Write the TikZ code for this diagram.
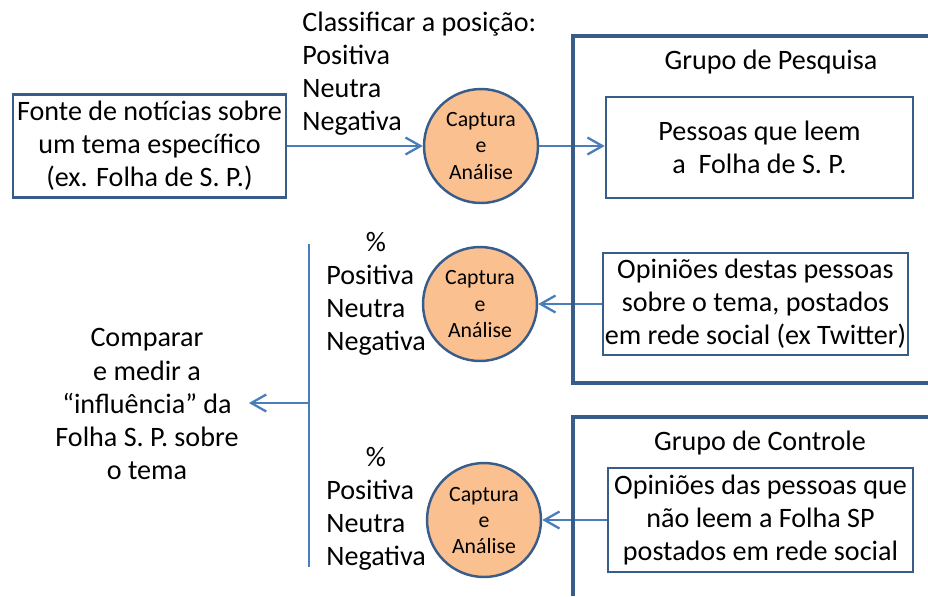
\documentclass[tikz,border=0pt]{standalone}
\usepackage{fontspec}
\setmainfont{Carlito}
\usepackage{tikz}
\usetikzlibrary{arrows.meta,calc}
\definecolor{boxblue}{HTML}{385D8A}
\definecolor{linkblue}{HTML}{4A7EBB}
\definecolor{capfill}{HTML}{FAC090}
\tikzset{
  txt/.style={font=\fontsize{16}{18.8}\selectfont, inner sep=0pt, align=left},
  srcbox/.style={draw=boxblue, line width=1.5pt, align=center, inner sep=0pt,
    font=\fontsize{16}{18.8}\selectfont},
  capnode/.style={circle, draw=boxblue, fill=capfill, line width=1.4pt,
    minimum size=2.28cm, inner sep=0pt, align=center,
    font=\fontsize{12.4}{14.8}\selectfont},
  grpline/.style={draw=boxblue, line width=2pt},
  barline/.style={draw=linkblue, line width=1.5pt},
  link/.style={draw=linkblue, line width=1.3pt, -{Straight Barb[length=3mm,width=3.4mm]}}
}
\begin{document}
\begin{tikzpicture}[x=0.02cm,y=-0.02cm]
\useasboundingbox (0,0) rectangle (928,596);
\node[srcbox, minimum width=5.46cm, minimum height=2.06cm] (fonte) at (149.5,146) {Fonte de notícias sobre\\um tema específico\\(ex. Folha de S. P.)};
\node[txt, anchor=west] (classif) at (302,74) {Classificar a posição:\\Positiva\\Neutra\\Negativa};
\node[capnode] (cap1) at (481,146) {Captura\\e\\Análise};
\node[capnode] (cap2) at (480,304) {Captura\\e\\Análise};
\node[capnode] (cap3) at (484,520) {Captura\\e\\Análise};
\node[txt] (pct1) at (376,242) {\%};
\node[txt, anchor=west] (cls1) at (326,310) {Positiva\\Neutra\\Negativa};
\node[txt] (pct2) at (376,457) {\%};
\node[txt, anchor=west] (cls2) at (326,525) {Positiva\\Neutra\\Negativa};
\node[txt, align=center, inner xsep=0.2cm] (comparar) at (147,404) {Comparar\\e medir a\\“influência” da\\Folha S. P. sobre\\o tema};
\node[txt] (pesq) at (771,62) {Grupo de Pesquisa};
\node[srcbox, minimum width=6.14cm, minimum height=2.02cm] (pessoas) at (759.5,147.5) {Pessoas que leem\\a\ \ Folha de S. P.};
\node[srcbox, minimum width=6.1cm, minimum height=2.04cm] (opdestas) at (755.5,304) {Opiniões destas pessoas\\sobre o tema, postados\\em rede social (ex Twitter)};
\node[txt] (ctrl) at (760,443) {Grupo de Controle};
\node[srcbox, minimum width=6.1cm, minimum height=2.08cm] (opdas) at (760.5,520) {Opiniões das pessoas que\\não leem a Folha SP\\postados em rede social};
\coordinate (bartop) at (309,244);
\coordinate (barbot) at (309,567);
\coordinate (barmid) at (309,403);
\draw[barline] (bartop) -- (barbot);
\draw[link] (barmid) -- (barmid -| comparar.east);
\draw[link] (fonte) -- (cap1);
\draw[link] (cap1) -- (cap1 -| pessoas.west);
\draw[link] (opdestas) -- (cap2);
\draw[link] (opdas) -- (cap3);
\draw[grpline] (928,36) -- (573,36) -- (573,383) -- (928,383);
\draw[grpline] (928,417) -- (573,417) -- (573,596);
\end{tikzpicture}
\end{document}
